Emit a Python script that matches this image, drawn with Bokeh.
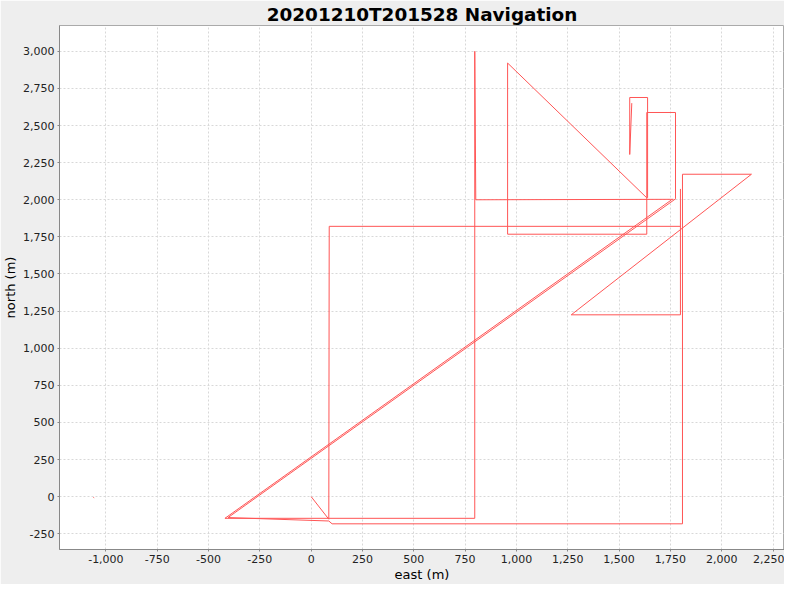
from bokeh.plotting import figure
from bokeh.models import NumeralTickFormatter, FixedTicker, Range1d
from bokeh.embed import file_html
from bokeh.resources import INLINE

# Navigation tracks (east, north) in metres
track_a_east = [0, 86, 88, 1800]
track_a_north = [0, -152, 1821, 1821]

track_b_east = [1799, 1799, 1267, 2145, 1809, 1809, 102, 86, -405, 1777]
track_b_north = [2073, 1225, 1225, 2172, 2172, -183, -183, -164, -141, 2008]

track_c_east = [1756, -420, 797, 797, 802, 1765]
track_c_north = [2000, -146, -146, 3000, 2000, 2003]

track_d_east = [1775, 1775, 1635, 1635, 957, 957, 1635]
track_d_north = [2007, 2588, 2588, 1768, 1768, 2921, 2013]

track_e_east = [1562, 1552, 1552, 1639, 1639]
track_e_north = [2651, 2305, 2689, 2689, 2013]

track_f_east = [-1061, -1057]
track_f_north = [-5, -8]

tracks = [
    (track_a_east, track_a_north),
    (track_b_east, track_b_north),
    (track_c_east, track_c_north),
    (track_d_east, track_d_north),
    (track_e_east, track_e_north),
    (track_f_east, track_f_north),
]

x_ticks = list(range(-1000, 2251, 250))
y_ticks = list(range(-250, 3001, 250))

p = figure(width=784, height=584, output_backend="svg", toolbar_location=None,
           x_range=Range1d(-1226, 2306), y_range=Range1d(-356, 3174),
           min_border_left=54, min_border_right=0, min_border_bottom=30, min_border_top=0)

p.title.text = "20201210T201528 Navigation"
p.title.align = "center"
p.title.text_font = "DejaVu Sans"
p.title.text_font_size = "18.4px"
p.title.text_font_style = "bold"
p.title.text_color = "#000000"
p.title.standoff = 2

p.background_fill_color = "#ffffff"
p.border_fill_color = "#eeeeee"
p.outline_line_color = "#aaaaaa"

for e, n in tracks:
    p.line(e, n, line_color="#ff5555", line_width=1)

p.xaxis.ticker = FixedTicker(ticks=x_ticks)
p.yaxis.ticker = FixedTicker(ticks=y_ticks)
p.xaxis.formatter = NumeralTickFormatter(format="0,0")
p.yaxis.formatter = NumeralTickFormatter(format="0,0")
p.xaxis.axis_label = "east (m)"
p.yaxis.axis_label = "north (m)"
for ax in (p.xaxis, p.yaxis):
    ax.axis_label_text_font = "DejaVu Sans"
    ax.axis_label_text_font_size = "13px"
    ax.axis_label_text_font_style = "normal"
    ax.axis_label_text_color = "#000000"
    ax.major_label_text_font = "DejaVu Sans"
    ax.major_label_text_font_size = "11px"
    ax.major_label_text_color = "#222222"
    ax.axis_line_color = "#888888"
    ax.major_tick_line_color = "#888888"
    ax.major_tick_in = 0
    ax.major_tick_out = 2
    ax.minor_tick_line_color = None
    ax.major_label_standoff = 3
p.xaxis.axis_label_standoff = 1
p.yaxis.axis_label_standoff = 2

p.xgrid.grid_line_color = "#d8d8d8"
p.ygrid.grid_line_color = "#d8d8d8"
p.xgrid.grid_line_dash = "2 2"
p.ygrid.grid_line_dash = "2 2"

open("out.html", "w").write(file_html(p, INLINE))
